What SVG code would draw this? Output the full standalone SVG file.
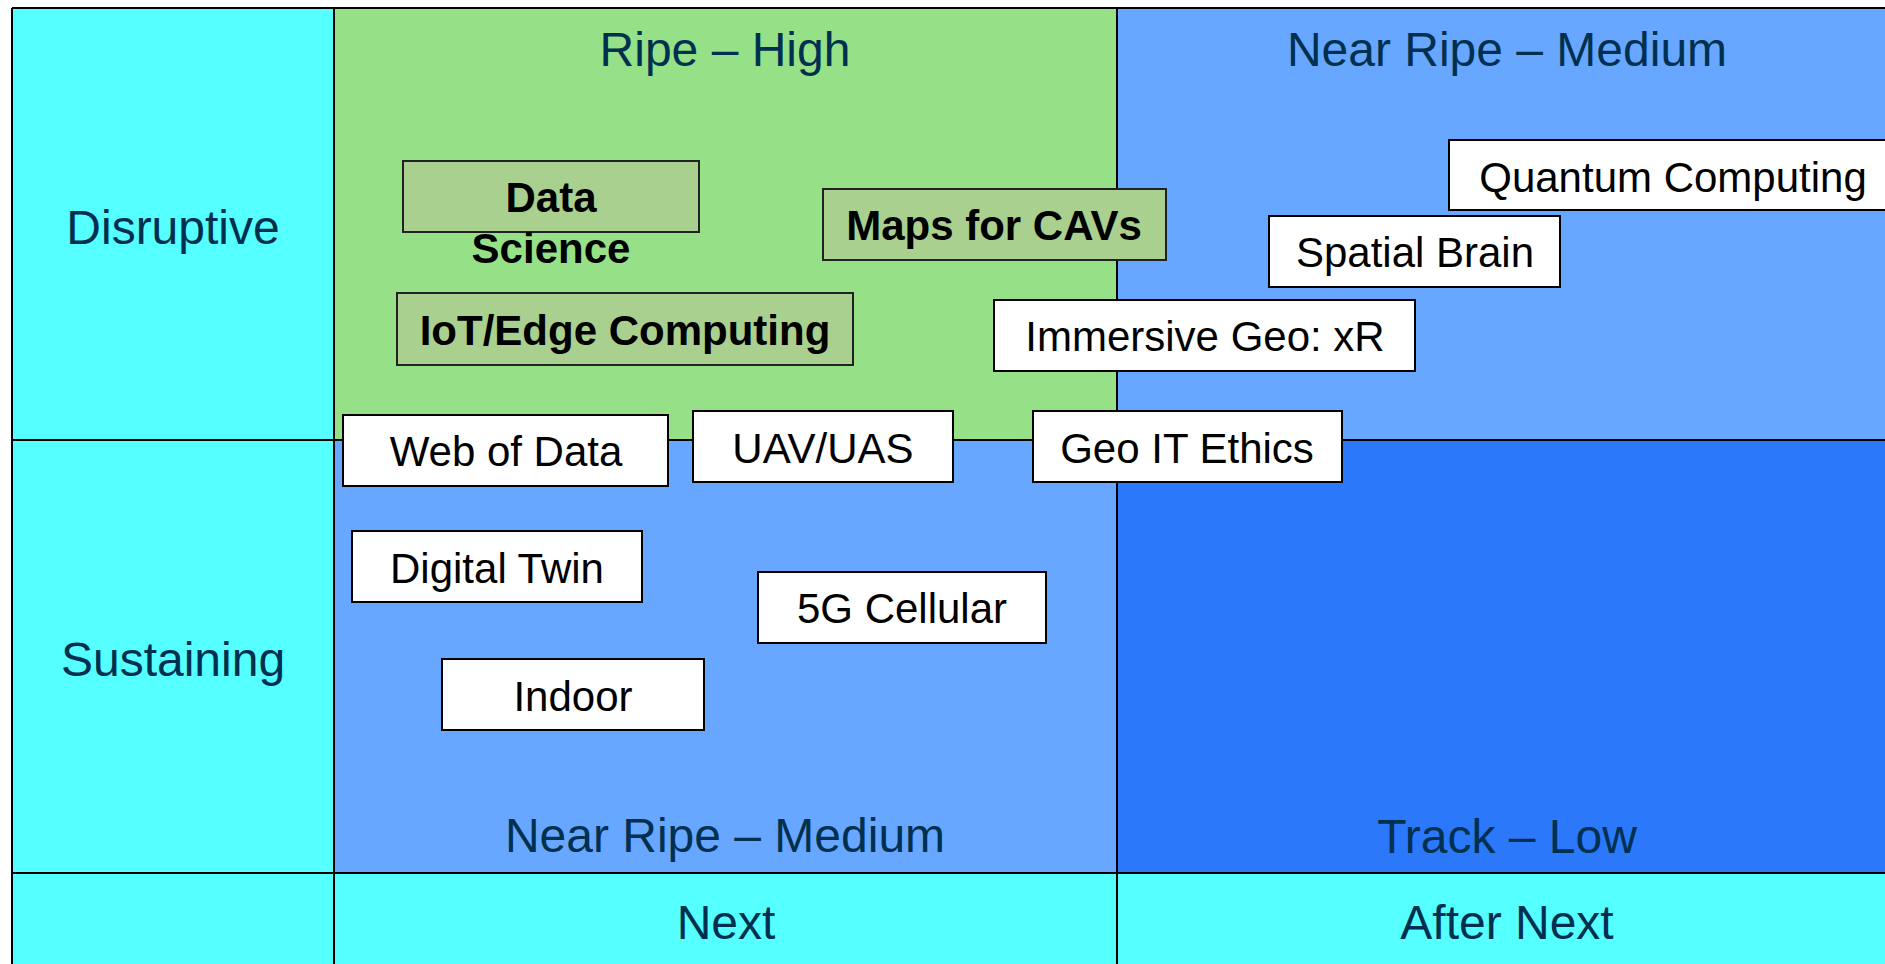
<svg xmlns="http://www.w3.org/2000/svg" width="1885" height="964" viewBox="0 0 1885 964">
<style>
.lbl{font-family:"Liberation Sans",Arial,sans-serif;font-size:48px;fill:#00304f;text-anchor:middle}
.bx{fill:#ffffff;stroke:#000;stroke-width:2}
.gbx{fill:#a9d08e;stroke:#222;stroke-width:2}
.t{font-family:"Liberation Sans",Arial,sans-serif;font-size:42px;fill:#000;text-anchor:middle}
.tb{font-family:"Liberation Sans",Arial,sans-serif;font-size:42px;font-weight:bold;fill:#000;text-anchor:middle}
.grid{stroke:#000;stroke-width:2;fill:none}
</style>
<rect x="0" y="0" width="1885" height="964" fill="#ffffff"/>
<g id="matrix">
<rect x="12" y="8" width="1890" height="970" fill="#55ffff"/>
<rect x="334" y="8" width="783" height="432" fill="#96e088"/>
<rect x="1117" y="8" width="790" height="432" fill="#68a7ff"/>
<rect x="334" y="440" width="783" height="433" fill="#68a7ff"/>
<rect x="1117" y="440" width="790" height="433" fill="#2c78fa"/>
<path class="grid" d="M12 8H1902M12 8V980M334 8V980M1117 8V980M12 440H1902M12 873H1902"/>
</g>
<g id="labels">
<text class="lbl" x="173" y="244">Disruptive</text>
<text class="lbl" x="173" y="676">Sustaining</text>
<text class="lbl" x="725" y="66">Ripe – High</text>
<text class="lbl" x="1507" y="66">Near Ripe – Medium</text>
<text class="lbl" x="725" y="852">Near Ripe – Medium</text>
<text class="lbl" x="1507" y="853">Track – Low</text>
<text class="lbl" x="726" y="939">Next</text>
<text class="lbl" x="1507" y="939">After Next</text>
</g>
<g id="connectors"></g>
<g id="data-science">
<rect class="gbx" x="403" y="161" width="296" height="71"/>
<text class="tb" x="551" y="212">Data</text>
<text class="tb" x="551" y="263">Science</text>
</g>
<g id="iot-edge">
<rect class="gbx" x="397" y="293" width="456" height="72"/>
<text class="tb" x="625" y="345">IoT/Edge Computing</text>
</g>
<g id="maps-cavs">
<rect class="gbx" x="823" y="189" width="343" height="71"/>
<text class="tb" x="994" y="240">Maps for CAVs</text>
</g>
<g id="quantum">
<rect class="bx" x="1449" y="140" width="460" height="70"/>
<text class="t" x="1673" y="192">Quantum Computing</text>
</g>
<g id="spatial-brain">
<rect class="bx" x="1269" y="216" width="291" height="71"/>
<text class="t" x="1415" y="267">Spatial Brain</text>
</g>
<g id="immersive">
<rect class="bx" x="994" y="300" width="421" height="71"/>
<text class="t" x="1205" y="351">Immersive Geo: xR</text>
</g>
<g id="web-of-data">
<rect class="bx" x="343" y="415" width="325" height="71"/>
<text class="t" x="506" y="466">Web of Data</text>
</g>
<g id="uav">
<rect class="bx" x="693" y="411" width="260" height="71"/>
<text class="t" x="823" y="463">UAV/UAS</text>
</g>
<g id="geo-it-ethics">
<rect class="bx" x="1033" y="411" width="309" height="71"/>
<text class="t" x="1187" y="463">Geo IT Ethics</text>
</g>
<g id="digital-twin">
<rect class="bx" x="352" y="531" width="290" height="71"/>
<text class="t" x="497" y="583">Digital Twin</text>
</g>
<g id="cellular-5g">
<rect class="bx" x="758" y="572" width="288" height="71"/>
<text class="t" x="902" y="623">5G Cellular</text>
</g>
<g id="indoor">
<rect class="bx" x="442" y="659" width="262" height="71"/>
<text class="t" x="573" y="711">Indoor</text>
</g>
</svg>
